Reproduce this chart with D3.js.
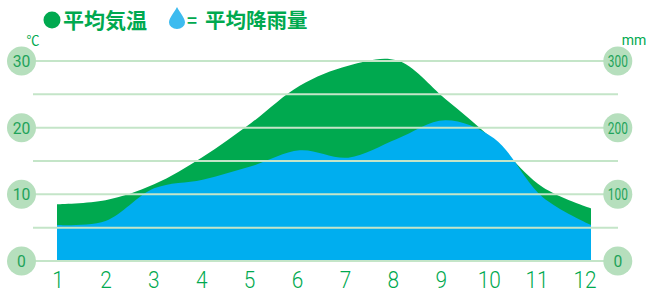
<!DOCTYPE html>
<html>
<head>
<meta charset="utf-8">
<script src="https://cdn.jsdelivr.net/npm/d3@7"></script>
<style>
  html, body { margin: 0; padding: 0; background: #fff; }
  svg { display: block; }
</style>
</head>
<body>
<div id="chart"></div>
<script>
// data
const months = [1, 2, 3, 4, 5, 6, 7, 8, 9, 10, 11, 12];
const temperature = [8.5, 9.1, 11.5, 15.6, 20.7, 26.3, 29.3, 30.1, 24.3, 18.1, 11.1, 7.9]; // ℃
const rainfall = [54, 60, 109, 122, 142, 166, 155, 183, 211, 184, 96, 54]; // mm
const tempTicks = [0, 10, 20, 30];
const rainTicks = [0, 100, 200, 300];
const minorTicks = [5, 15, 25];

const width = 646, height = 293;
const green = '#00a94f', blue = '#00aeef', pale = '#b6dfbd', lineCol = '#c4e5c8';

const x = d3.scalePoint().domain(months).range([57, 591]);
const xLabel = d3.scalePoint().domain(months).range([58, 585]);
const yT = d3.scaleLinear().domain([0, 30]).range([261, 61]);
const yR = d3.scaleLinear().domain([0, 300]).range([261, 61]);

const svg = d3.create('svg')
    .attr('width', width)
    .attr('height', height);

// temperature area (green), rain area (blue) on top
const areaT = d3.area()
    .x((d, i) => x(months[i]))
    .y0(yT(0))
    .y1(d => yT(d))
    .curve(d3.curveCatmullRom.alpha(0.5));

const areaR = d3.area()
    .x((d, i) => x(months[i]))
    .y0(yR(0))
    .y1(d => yR(d))
    .curve(d3.curveCatmullRom.alpha(0.5));

svg.append('path').datum(temperature).attr('d', areaT).attr('fill', green);
svg.append('path').datum(rainfall).attr('d', areaR).attr('fill', blue);

// grid lines
svg.append('g').selectAll('line.minor')
    .data(minorTicks)
    .join('line')
    .attr('x1', 33).attr('x2', 618)
    .attr('y1', d => yT(d)).attr('y2', d => yT(d))
    .attr('stroke', lineCol).attr('stroke-width', 2);

svg.append('g').selectAll('line.major')
    .data(tempTicks)
    .join('line')
    .attr('x1', 22).attr('x2', 618)
    .attr('y1', d => yT(d)).attr('y2', d => yT(d))
    .attr('stroke', lineCol).attr('stroke-width', 2);

// tick bubbles
function bubbles(g, ticks, scale, cx) {
    const b = g.selectAll('g')
        .data(ticks)
        .join('g')
        .attr('transform', d => `translate(${cx}, ${scale(d)})`);
    b.append('circle').attr('r', 14.5).attr('fill', pale);
    b.append('text')
        .attr('text-anchor', 'middle')
        .attr('dy', '0.36em')
        .attr('fill', '#1fa35a')
        .attr('font-family', 'Roboto, sans-serif')
        .attr('font-size', 17)
        .attr('textLength', d => String(d).length === 3 ? 20 : String(d).length * 8.8)
        .attr('lengthAdjust', 'spacingAndGlyphs')
        .text(d => d);
}
svg.append('g').call(bubbles, tempTicks, yT, 21.5);
svg.append('g').call(bubbles, rainTicks, yR, 617.8);

// unit labels
svg.append('text')
    .attr('x', 33).attr('y', 45)
    .attr('text-anchor', 'middle')
    .attr('fill', green)
    .attr('font-family', '"Noto Sans CJK JP", sans-serif')
    .attr('font-size', 13)
    .text('℃');
svg.append('text')
    .attr('x', 634).attr('y', 45)
    .attr('text-anchor', 'middle')
    .attr('fill', green)
    .attr('font-family', 'Roboto, sans-serif')
    .attr('font-size', 14)
    .text('mm');

// month labels
svg.append('g').selectAll('text')
    .data(months)
    .join('text')
    .attr('transform', d => `translate(${xLabel(d)}, 287.5) scale(0.85, 1)`)
    .attr('text-anchor', 'middle')
    .attr('fill', green)
    .attr('font-family', 'Roboto, sans-serif')
    .attr('font-weight', 300)
    .attr('font-size', 24.5)
    .text(d => d);

// legend
const legend = svg.append('g');
legend.append('circle').attr('cx', 52).attr('cy', 20).attr('r', 8.5).attr('fill', green);
legend.append('text')
    .attr('x', 63).attr('y', 28)
    .attr('fill', green)
    .attr('font-family', '"Noto Sans CJK JP", sans-serif')
    .attr('font-weight', 'bold')
    .attr('font-size', 21)
    .text('平均気温');
legend.append('path')
    .attr('d', 'M177,7 C180,13 185,18 185,22.5 A8,6.5 0 0 1 169,22.5 C169,18 174,13 177,7 Z')
    .attr('fill', '#3dbbef');
legend.append('text')
    .attr('x', 187).attr('y', 27)
    .attr('fill', green)
    .attr('font-family', '"Noto Sans CJK JP", sans-serif')
    .attr('font-weight', 'bold')
    .attr('font-size', 17)
    .text('=');
legend.append('text')
    .attr('x', 205).attr('y', 28)
    .attr('fill', green)
    .attr('font-family', '"Noto Sans CJK JP", sans-serif')
    .attr('font-weight', 'bold')
    .attr('font-size', 20.5)
    .text('平均降雨量');

document.getElementById('chart').appendChild(svg.node());
</script>
</body>
</html>
